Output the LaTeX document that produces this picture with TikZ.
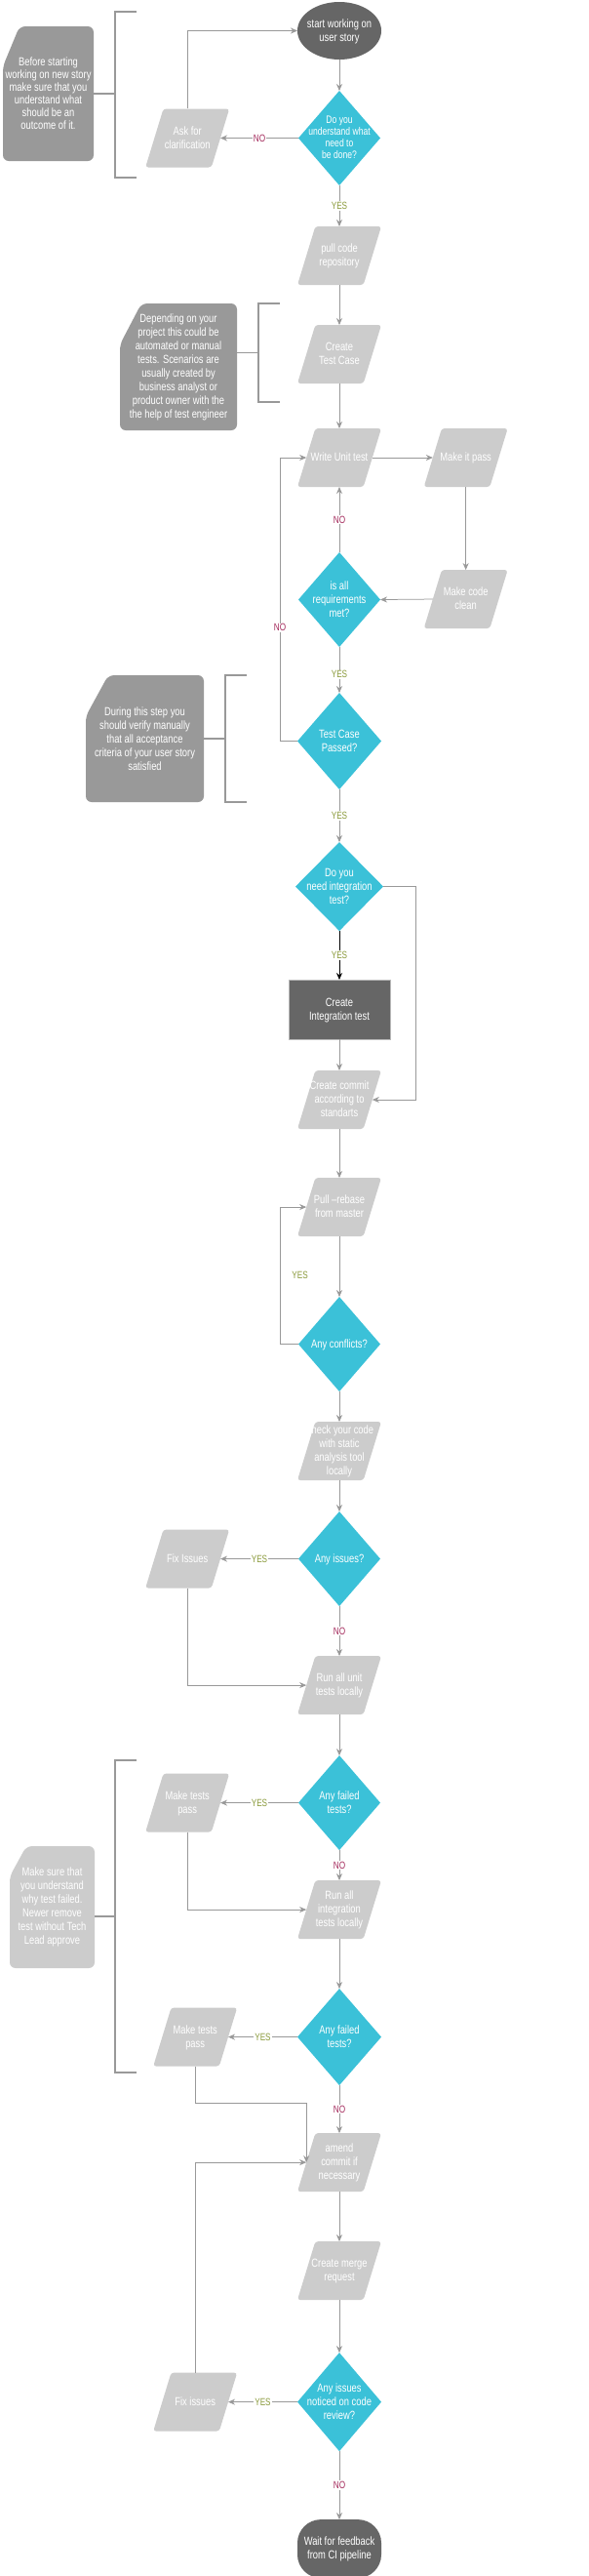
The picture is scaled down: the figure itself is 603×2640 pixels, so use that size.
\documentclass[tikz,border=0pt]{standalone}
\usepackage{fontspec}
\setmainfont{Liberation Sans}[FakeStretch=0.78]
\usetikzlibrary{shapes.geometric, arrows.meta, positioning, backgrounds}

\definecolor{cyanbox}{HTML}{3BC1D8}
\definecolor{lightbox}{HTML}{CCCCCC}
\definecolor{darkbox}{HTML}{666666}
\definecolor{notebox}{HTML}{999999}
\definecolor{linegray}{HTML}{999999}
\definecolor{yesgreen}{HTML}{8A9A3B}
\definecolor{nored}{HTML}{A3285A}

% text that does not resize its shape
\newcommand{\shapetext}[1]{\makebox[0pt]{\smash{\raisebox{-.33em}{\begin{tabular}{@{}c@{}}#1\end{tabular}}}}}

\begin{document}
\begin{tikzpicture}[
    x=1pt, y=-1pt,
    font=\fontsize{12}{14}\selectfont,
    terminal/.style={ellipse, fill=darkbox, text=white, minimum width=86pt, minimum height=59pt, inner sep=0pt, outer sep=0pt},
    task/.style={trapezium, trapezium left angle=73, trapezium right angle=107, trapezium stretches body=true, fill=lightbox, text=white, rounded corners=3pt, text height=29.5pt, text depth=29.5pt, minimum width=86pt, minimum height=60pt, inner sep=0.5pt, outer sep=0pt},
    decision/.style={diamond, fill=cyanbox, text=white, minimum width=84pt, minimum height=97pt, inner sep=0pt, outer sep=0pt},
    process/.style={rectangle, fill=darkbox, draw=gray!55, text=white, minimum width=104pt, minimum height=61pt, inner sep=0pt, outer sep=0pt},
    note/.style={rectangle, text=white, align=center, inner sep=0pt, outer sep=0pt},
    notefill/.style={rounded corners=6pt},
    bracket/.style={draw=linegray, line width=1.5pt},
    arrow/.style={-{Stealth[length=7pt, width=6pt]}, draw=linegray, line width=0.75pt},
    yeslabel/.style={fill=white, text=yesgreen, inner sep=1pt, font=\fontsize{10.5}{12}\selectfont},
    nolabel/.style={fill=white, text=nored, inner sep=1pt, font=\fontsize{10.5}{12}\selectfont}
]
\useasboundingbox (0,0) rectangle (603,2640);

% Main column
\node[terminal] (start) at (348,31.5) {\shapetext{start working on\\user story}};
\node[decision, below=32pt of start, font=\fontsize{11}{12}\selectfont] (understand) {\shapetext{Do you\\understand what\\need to\\be done?}};
\node[task, left=80pt of understand] (clarify) {\shapetext{Ask for\\clarification}};
\node[task, below=42pt of understand] (pull) {\shapetext{pull code\\repository}};
\node[task, below=41pt of pull] (testcase) {\shapetext{Create\\Test Case}};
\node[task, below=46pt of testcase] (unittest) {\shapetext{Write Unit test}};
\node[task, right=62pt of unittest] (makepass) {\shapetext{Make it pass}};
\node[task, below=85pt of makepass] (clean) {\shapetext{Make code\\clean}};
\node[decision, below=67pt of unittest] (reqmet) {\shapetext{is all\\requirements\\met?}};
\node[decision, below=47pt of reqmet, minimum width=86pt, minimum height=99pt] (passed) {\shapetext{Test Case\\Passed?}};
\node[decision, below=54pt of passed, minimum width=90pt, minimum height=91pt] (needint) {\shapetext{Do you\\need integration\\test?}};
\node[process, below=50pt of needint] (integ) {\shapetext{Create\\Integration test}};
\node[task, below=32pt of integ] (commit) {\shapetext{Create commit\\according to\\standarts}};
\node[task, below=50pt of commit] (rebase) {\shapetext{Pull --rebase\\from master}};
\node[decision, below=62pt of rebase] (conflicts) {\shapetext{Any conflicts?}};
\node[task, below=31pt of conflicts] (static) {\shapetext{Check your code\\with static\\analysis tool\\locally}};
\node[decision, below=32pt of static] (issues) {\shapetext{Any issues?}};
\node[task, left=80pt of issues] (fixissues) {\shapetext{Fix Issues}};
\node[task, below=51pt of issues] (rununit) {\shapetext{Run all unit\\tests locally}};
\node[decision, below=42pt of rununit] (failedunit) {\shapetext{Any failed\\tests?}};
\node[task, left=80pt of failedunit] (passunit) {\shapetext{Make tests\\pass}};
\node[task, below=31pt of failedunit] (runint) {\shapetext{Run all\\integration\\tests locally}};
\node[decision, below=51pt of runint, minimum width=86pt, minimum height=99pt] (failedint) {\shapetext{Any failed\\tests?}};
\node[task, left=71pt of failedint] (passint) {\shapetext{Make tests\\pass}};
\node[task, below=49pt of failedint] (amend) {\shapetext{amend\\commit if\\necessary}};
\node[task, below=51pt of amend] (merge) {\shapetext{Create merge\\request}};
\node[decision, below=54pt of merge, minimum width=86pt, minimum height=101pt] (review) {\shapetext{Any issues\\noticed on code\\review?}};
\node[task, left=71pt of review] (fixreview) {\shapetext{Fix issues}};
\node[terminal, rectangle, rounded corners=24pt, below=70pt of review, minimum height=60pt] (wait) {\shapetext{Wait for feedback\\from CI pipeline}};

% Notes
\node[note, minimum width=93pt, minimum height=138pt, font=\fontsize{12}{13}\selectfont] (note1) at (49.5,96) {Before starting\\working on new story\\make sure that you\\understand what\\should be an\\outcome of it.};
\node[note, minimum width=120pt, minimum height=130pt] (note2) at (183,376) {Depending on your\\project this could be\\automated or manual\\tests. Scenarios are\\usually created by\\business analyst or\\product owner with the\\the help of test engineer};
\node[note, minimum width=121pt, minimum height=130pt] (note3) at (148.5,757) {During this step you\\should verify manually\\that all acceptance\\criteria of your user story\\satisfied};
\node[note, minimum width=87pt, minimum height=125pt] (note4) at (53.5,1954.5) {Make sure that\\you understand\\why test failed.\\Newer remove\\test without Tech\\Lead approve};

\begin{scope}[on background layer]
\fill[white] (0,0) rectangle (603,2640);
\fill[notefill, notebox] ([xshift=17pt]note1.north west) -- (note1.north east) -- (note1.south east) -- (note1.south west) -- ([yshift=-41pt]note1.north west) -- cycle;
\fill[notefill, notebox] ([xshift=22pt]note2.north west) -- (note2.north east) -- (note2.south east) -- (note2.south west) -- ([yshift=-42pt]note2.north west) -- cycle;
\fill[notefill, notebox] ([xshift=23pt]note3.north west) -- (note3.north east) -- (note3.south east) -- (note3.south west) -- ([yshift=-42pt]note3.north west) -- cycle;
\fill[notefill, lightbox] ([xshift=17pt]note4.north west) -- (note4.north east) -- (note4.south east) -- (note4.south west) -- ([yshift=-31pt]note4.north west) -- cycle;
\end{scope}

% Brackets
\coordinate (b2) at (265,361.5);
\coordinate (b4) at (118,1964);
\draw[bracket] (140,12) -- (118,12) -- (118,182) -- (140,182);
\draw[bracket] (note1.east) -- ++(21,0);
\draw[bracket] (287,311) -- (265,311) -- (265,412) -- (287,412);
\draw[bracket] (note2.east |- b2) -- (b2);
\draw[bracket] (253,692) -- (231,692) -- (231,822) -- (253,822);
\draw[bracket] (note3.east) -- ++(22,0);
\draw[bracket] (140,1804) -- (118,1804) -- (118,2124) -- (140,2124);
\draw[bracket] (note4.east |- b4) -- (b4);

% Arrows
\draw[arrow] (start.south) -- (understand.north);
\draw[arrow] (understand.west) -- node[nolabel]{NO} (clarify.east);
\draw[arrow] (clarify.north) |- (start.west);
\draw[arrow] (understand.south) -- node[yeslabel]{YES} (pull.north);
\draw[arrow] (pull.south) -- (testcase.north);
\draw[arrow] (testcase.south) -- (unittest.north);
\draw[arrow] (unittest.east) -- (makepass.west);
\draw[arrow] (makepass.south) -- (clean.north);
\draw[arrow] (clean.west) -- (reqmet.east);
\draw[arrow] (reqmet.north) -- node[nolabel]{NO} (unittest.south);
\draw[arrow] (reqmet.south) -- node[yeslabel, pos=.6]{YES} (passed.north);
\draw[arrow] (passed.west) -- ++(-18,0) |- node[nolabel, pos=.2]{NO} (unittest.west);
\draw[arrow] (passed.south) -- node[yeslabel]{YES} (needint.north);
\draw[arrow, draw=black] (needint.south) -- node[yeslabel]{YES} (integ.north);
\draw[arrow] (needint.east) -- ++(33,0) |- (commit.east);
\draw[arrow] (integ.south) -- (commit.north);
\draw[arrow] (commit.south) -- (rebase.north);
\draw[arrow] (rebase.south) -- (conflicts.north);
\draw[arrow] (conflicts.west) -- ++(-19,0) |- node[yeslabel, pos=.25, right=11pt]{YES} (rebase.west);
\draw[arrow] (conflicts.south) -- (static.north);
\draw[arrow] (static.south) -- (issues.north);
\draw[arrow] (issues.west) -- node[yeslabel]{YES} (fixissues.east);
\draw[arrow] (fixissues.south) |- (rununit.west);
\draw[arrow] (issues.south) -- node[nolabel]{NO} (rununit.north);
\draw[arrow] (rununit.south) -- (failedunit.north);
\draw[arrow] (failedunit.west) -- node[yeslabel]{YES} (passunit.east);
\draw[arrow] (passunit.south) |- (runint.west);
\draw[arrow] (failedunit.south) -- node[nolabel]{NO} (runint.north);
\draw[arrow] (runint.south) -- (failedint.north);
\draw[arrow] (failedint.west) -- node[yeslabel]{YES} (passint.east);
\draw[arrow] (passint.south) |- ([yshift=61pt]amend.west) -- (amend.west);
\draw[arrow] (failedint.south) -- node[nolabel]{NO} (amend.north);
\draw[arrow] (amend.south) -- (merge.north);
\draw[arrow] (merge.south) -- (review.north);
\draw[arrow] (review.west) -- node[yeslabel]{YES} (fixreview.east);
\draw[arrow] (fixreview.north) |- (amend.west);
\draw[arrow] (review.south) -- node[nolabel]{NO} (wait.north);

\end{tikzpicture}
\end{document}
